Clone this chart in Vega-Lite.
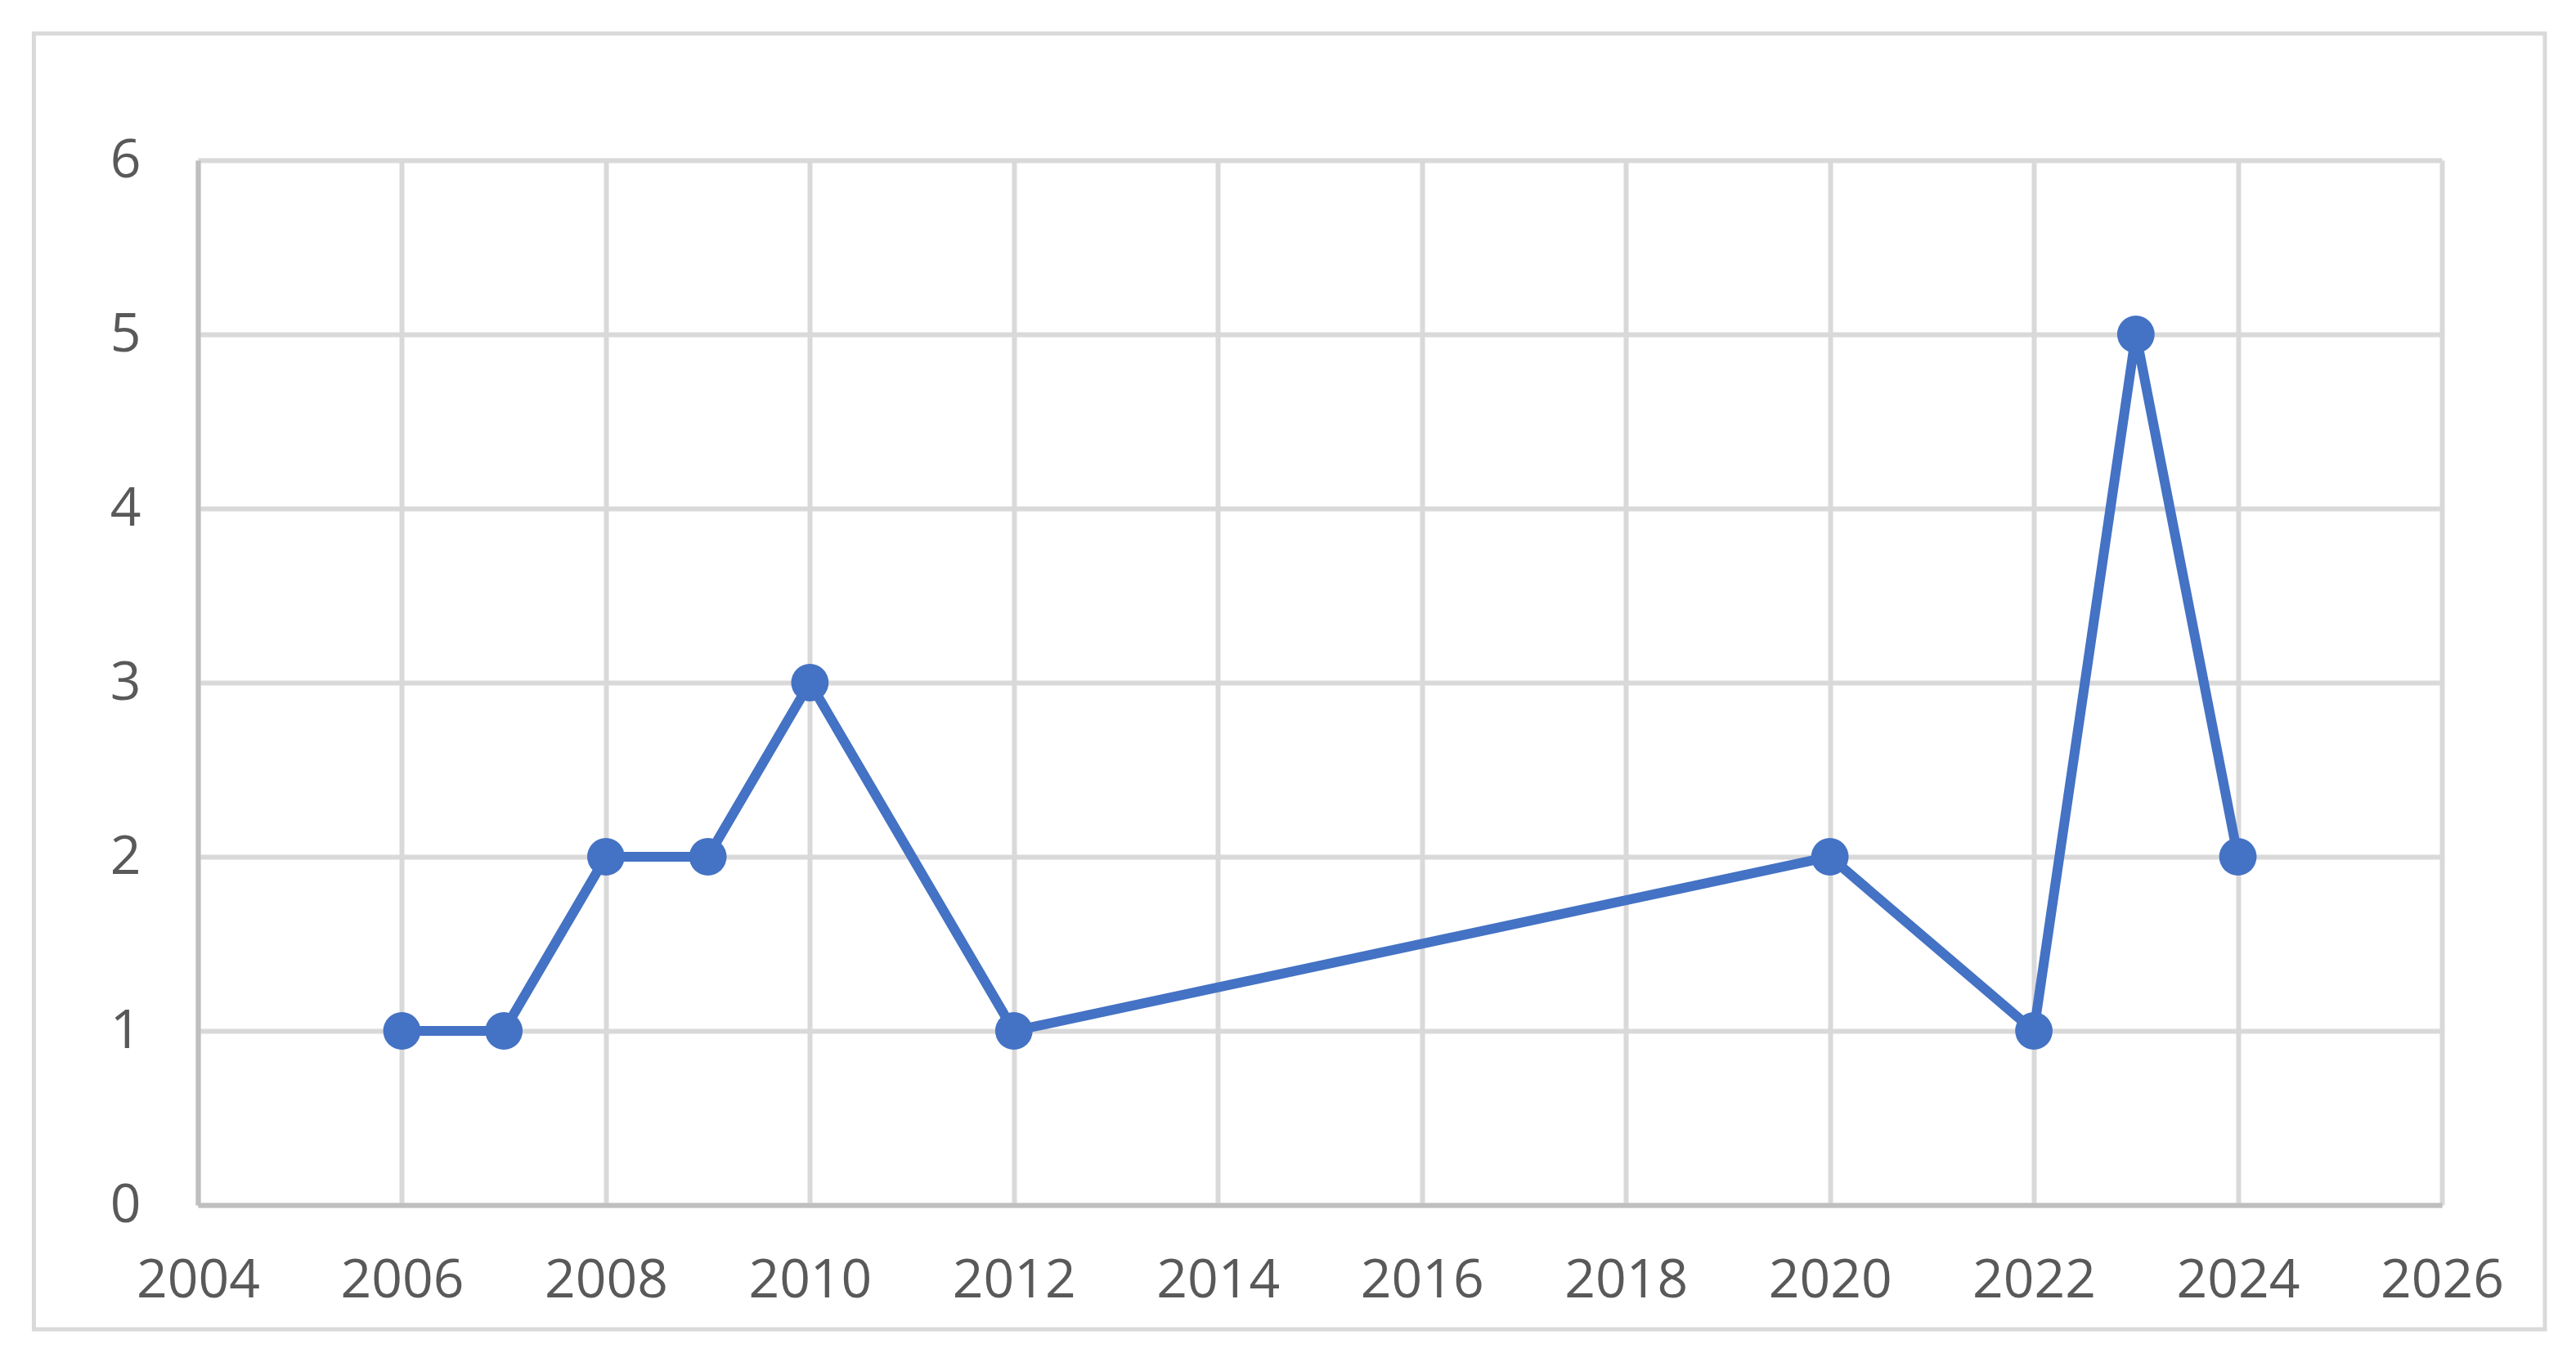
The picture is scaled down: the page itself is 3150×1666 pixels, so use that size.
{
  "$schema": "https://vega.github.io/schema/vega-lite/v6.json",
  "autosize": "none",
  "width": 2744,
  "height": 1278,
  "padding": {"left": 242, "top": 196, "right": 164, "bottom": 192},
  "background": "white",
  "config": {
    "view": {"stroke": null},
    "font": "Open Sans"
  },
  "datasets": {
    "series": [
      {"year": 2006, "count": 1},
      {"year": 2007, "count": 1},
      {"year": 2008, "count": 2},
      {"year": 2009, "count": 2},
      {"year": 2010, "count": 3},
      {"year": 2012, "count": 1},
      {"year": 2020, "count": 2},
      {"year": 2022, "count": 1},
      {"year": 2023, "count": 5},
      {"year": 2024, "count": 2}
    ],
    "frame": [
      {"x0": 2002.392, "x1": 2027.01, "y0": -0.714, "y1": 6.728}
    ]
  },
  "layer": [
    {
      "data": {"name": "frame"},
      "mark": {"type": "rect", "fill": null, "stroke": "#D9D9D9", "strokeWidth": 5, "clip": false},
      "encoding": {
        "x": {"field": "x0", "type": "quantitative", "scale": {"domain": [2004, 2026], "nice": false, "zero": false}},
        "x2": {"field": "x1"},
        "y": {"field": "y0", "type": "quantitative", "scale": {"domain": [0, 6], "nice": false}},
        "y2": {"field": "y1"}
      }
    },
    {
      "data": {"name": "series"},
      "mark": {"type": "line", "color": "#4472C4", "strokeWidth": 12},
      "encoding": {
        "x": {
          "field": "year", "type": "quantitative",
          "scale": {"domain": [2004, 2026], "nice": false, "zero": false},
          "axis": {
            "title": null, "values": [2004, 2006, 2008, 2010, 2012, 2014, 2016, 2018, 2020, 2022, 2024, 2026],
            "format": "d", "ticks": false, "labelPadding": 60, "labelFlush": false, "labelOverlap": false, "labelBound": false,
            "labelFontSize": 66, "labelColor": "#595959", "labelFont": "Open Sans",
            "domainColor": "#BFBFBF", "domainWidth": 6,
            "grid": true, "gridColor": "#D9D9D9", "gridWidth": 6
          }
        },
        "y": {
          "field": "count", "type": "quantitative",
          "scale": {"domain": [0, 6], "nice": false},
          "axis": {
            "title": null, "values": [0, 1, 2, 3, 4, 5, 6], "format": "d", "ticks": false, "labelPadding": 70,
            "labelFlush": false, "labelOverlap": false, "labelBound": false,
            "labelFontSize": 66, "labelColor": "#595959", "labelFont": "Open Sans",
            "domainColor": "#BFBFBF", "domainWidth": 6,
            "grid": true, "gridColor": "#D9D9D9", "gridWidth": 6
          }
        }
      }
    },
    {
      "data": {"name": "series"},
      "mark": {"type": "point", "filled": true, "color": "#4472C4", "opacity": 1, "size": 2100},
      "encoding": {
        "x": {"field": "year", "type": "quantitative"},
        "y": {"field": "count", "type": "quantitative"}
      }
    }
  ]
}
